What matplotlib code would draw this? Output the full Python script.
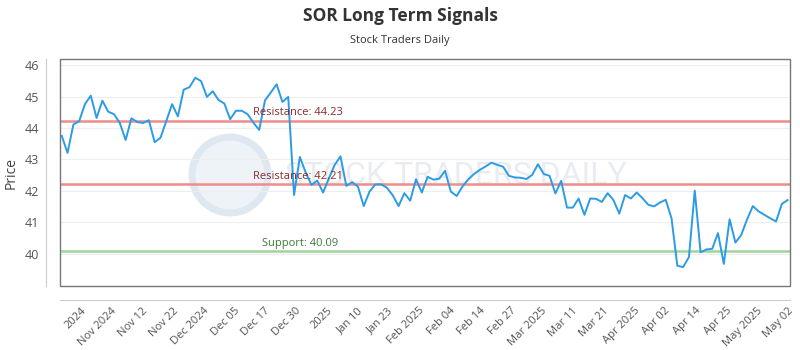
import numpy as np
import matplotlib
matplotlib.use("Agg")
import matplotlib.pyplot as plt
from matplotlib.patches import Rectangle, Ellipse

plt.rcParams['font.family'] = ['Open Sans', 'DejaVu Sans']

# closing prices, one per trading session
prices = [
    43.75, 43.21, 44.11, 44.22, 44.76, 45.03, 44.32, 44.87, 44.52, 44.44,
    44.16, 43.62, 44.31, 44.19, 44.16, 44.25, 43.55, 43.69, 44.22, 44.76,
    44.37, 45.22, 45.30, 45.60, 45.49, 44.99, 45.17, 44.89, 44.78, 44.28,
    44.55, 44.55, 44.44, 44.17, 43.94, 44.88, 45.13, 45.39, 44.83, 44.99,
    41.87, 43.08, 42.59, 42.19, 42.33, 41.95, 42.40, 42.83, 43.10, 42.16,
    42.28, 42.14, 41.52, 41.98, 42.21, 42.21, 42.10, 41.86, 41.52, 41.93,
    41.69, 42.37, 41.95, 42.45, 42.36, 42.39, 42.64, 41.98, 41.84, 42.14,
    42.37, 42.54, 42.67, 42.78, 42.90, 42.83, 42.77, 42.48, 42.43, 42.42,
    42.38, 42.51, 42.85, 42.54, 42.48, 41.92, 42.32, 41.47, 41.47, 41.76,
    41.24, 41.76, 41.75, 41.65, 41.93, 41.71, 41.28, 41.87, 41.76, 41.95,
    41.77, 41.56, 41.51, 41.63, 41.72, 41.13, 39.62, 39.58, 39.90, 42.01,
    40.05, 40.14, 40.16, 40.66, 39.68, 41.10, 40.36, 40.60, 41.09, 41.52,
    41.35, 41.24, 41.13, 41.03, 41.59, 41.71,
]

tick_labels = [
    "2024", "Nov 2024", "Nov 12", "Nov 22", "Dec 2024", "Dec 05", "Dec 17",
    "Dec 30", "2025", "Jan 10", "Jan 23", "Feb 2025", "Feb 04", "Feb 14",
    "Feb 27", "Mar 2025", "Mar 11", "Mar 21", "Apr 2025", "Apr 02", "Apr 14",
    "Apr 25", "May 2025", "May 02",
]

resistance_levels = [44.23, 42.21]
support_levels = [40.09]

fig = plt.figure(figsize=(8, 3.5), dpi=100)
ax = fig.add_axes([0.075, 0.183, 0.9125, 0.648])

# spines first: moving them resets the tick styling
for side in ['top', 'right']:
    ax.spines[side].set_visible(False)
for side in ['left', 'bottom']:
    ax.spines[side].set_position(('outward', 10))
    ax.spines[side].set_color('#cccccc')

x = np.arange(len(prices))

# faint watermark, kept under the data
ax.add_patch(Ellipse((0.2875, 0.5), 0.095, 0.217, transform=fig.transFigure,
                     facecolor='#eef3f8', edgecolor='#dfe7f0', lw=5,
                     clip_on=False, zorder=0.5))
ax.text(0.57, 0.5, "STOCK TRADERS DAILY", transform=fig.transFigure,
        fontsize=23, color='#e9edf2', ha='center', va='center',
        family='Roboto', zorder=0.6)

for lvl in resistance_levels:
    ax.axhline(lvl, color='#f08c8c', lw=1.8, zorder=2)
    ax.text(33.0, lvl + 0.08, f"Resistance: {lvl:.2f}", color='#8b2a2a',
            fontsize=8, va='bottom', ha='left', zorder=4)
for lvl in support_levels:
    ax.axhline(lvl, color='#9fd49a', lw=1.8, zorder=2)
    ax.text(34.5, lvl + 0.08, f"Support: {lvl:.2f}", color='#3c7a35',
            fontsize=8, va='bottom', ha='left', zorder=4)

ax.plot(x, prices, color='#2c9be6', lw=1.4, zorder=3)

ax.set_xlim(-0.3, 125.4)
ax.set_ylim(38.98, 46.19)
ax.set_yticks(range(40, 47))
ax.yaxis.grid(True, color='#eeeeee', lw=0.8, zorder=0)
ax.set_axisbelow(True)

ax.tick_params(axis='x', length=0, pad=4)
ax.tick_params(axis='y', length=0, pad=5, labelsize=9, labelcolor='#555555')
ax.set_xticks(np.linspace(3.2, 125.0, len(tick_labels)))
ax.set_xticklabels(tick_labels, fontsize=8, color='#555555')
plt.setp(ax.get_xticklabels(), rotation=45, ha='right', rotation_mode='anchor')

ax.add_patch(Rectangle((0, 0), 1, 1, transform=ax.transAxes, fill=False,
                       edgecolor='#777777', lw=1, clip_on=False, zorder=5))

ax.set_ylabel("Price", fontsize=10, color='#444444', labelpad=4)

fig.text(0.5, 0.955, "SOR Long Term Signals", ha='center', va='center',
         fontsize=12.5, fontweight='bold', color='#333333')
fig.text(0.5, 0.885, "Stock Traders Daily", ha='center', va='center',
         fontsize=8, color='#333333')

fig.savefig("out.png", dpi=100)
